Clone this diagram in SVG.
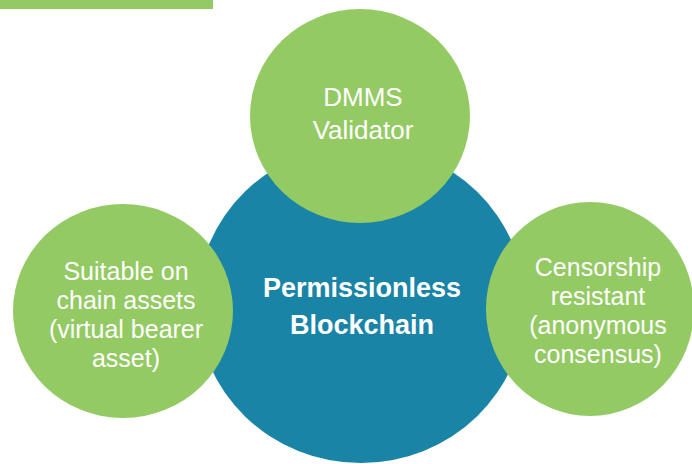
<svg xmlns="http://www.w3.org/2000/svg" width="692" height="464" viewBox="0 0 692 464">
<style>
.green{fill:#94CA64;}
.blue{fill:#1A84A6;}
.t{font-family:"Liberation Sans",Arial,sans-serif;fill:#ffffff;text-anchor:middle;}
.side{font-size:25px;}
.top{font-size:26px;}
.main{font-size:27px;font-weight:bold;}
</style>
<rect id="accent-bar" x="0" y="0" width="213" height="9" class="green"/>
<g id="connectors"/>
<g id="center-node">
<ellipse cx="361" cy="304" rx="164" ry="159" class="blue"/>
<text class="t main" x="362" y="297">Permissionless</text>
<text class="t main" x="362" y="334">Blockchain</text>
</g>
<g id="node-top">
<ellipse cx="360" cy="116" rx="110" ry="107" class="green"/>
<text class="t top" x="363" y="106">DMMS</text>
<text class="t top" x="363" y="139">Validator</text>
</g>
<g id="node-left">
<ellipse cx="123" cy="311" rx="110" ry="107" class="green"/>
<text class="t side" x="126" y="280">Suitable on</text>
<text class="t side" x="126" y="309">chain assets</text>
<text class="t side" x="126" y="338">(virtual bearer</text>
<text class="t side" x="126" y="367">asset)</text>
</g>
<g id="node-right">
<ellipse cx="590" cy="309" rx="104" ry="107" class="green"/>
<text class="t side" x="598" y="276">Censorship</text>
<text class="t side" x="598" y="305">resistant</text>
<text class="t side" x="598" y="334">(anonymous</text>
<text class="t side" x="598" y="363">consensus)</text>
</g>
</svg>
